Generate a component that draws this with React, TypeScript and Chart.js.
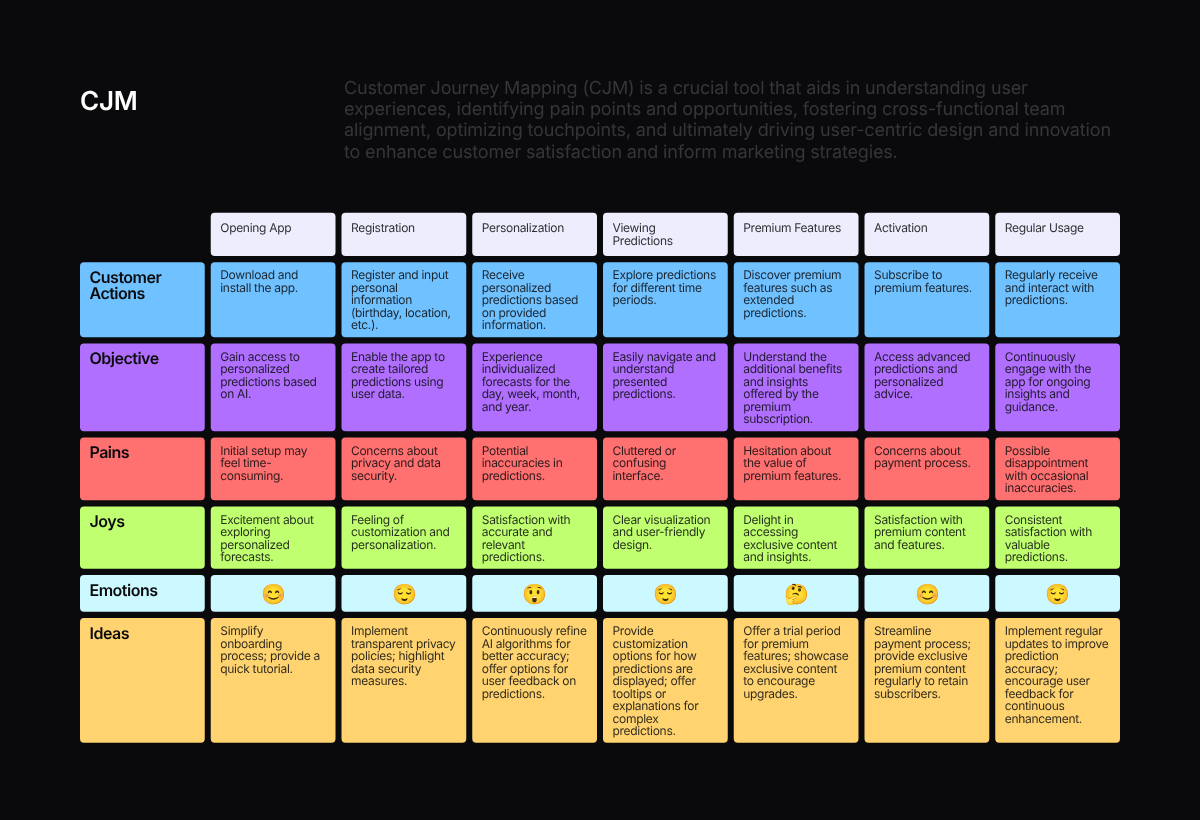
import React, { useEffect, useRef } from "react";
import { Chart, registerables } from "chart.js";

Chart.register(...registerables);

const title = "CJM";
const description = [
  "Customer Journey Mapping (CJM) is a crucial tool that aids in understanding user",
  "experiences, identifying pain points and opportunities, fostering cross-functional team",
  "alignment, optimizing touchpoints, and ultimately driving user-centric design and innovation",
  "to enhance customer satisfaction and inform marketing strategies.",
];

const stages = [
  ["Opening App"],
  ["Registration"],
  ["Personalization"],
  ["Viewing", "Predictions"],
  ["Premium Features"],
  ["Activation"],
  ["Regular Usage"],
];

const rowNames = [
  [],
  ["Customer", "Actions"],
  ["Objective"],
  ["Pains"],
  ["Joys"],
  ["Emotions"],
  ["Ideas"],
];

const customerActions = [
  ["Download and", "install the app."],
  ["Register and input", "personal", "information", "(birthday, location,", "etc.)."],
  ["Receive", "personalized", "predictions based", "on provided", "information."],
  ["Explore predictions", "for different time", "periods."],
  ["Discover premium", "features such as", "extended", "predictions."],
  ["Subscribe to", "premium features."],
  ["Regularly receive", "and interact with", "predictions."],
];

const objectives = [
  ["Gain access to", "personalized", "predictions based", "on AI."],
  ["Enable the app to", "create tailored", "predictions using", "user data."],
  ["Experience", "individualized", "forecasts for the", "day, week, month,", "and year."],
  ["Easily navigate and", "understand", "presented", "predictions."],
  ["Understand the", "additional benefits", "and insights", "offered by the", "premium", "subscription."],
  ["Access advanced", "predictions and", "personalized", "advice."],
  ["Continuously", "engage with the", "app for ongoing", "insights and", "guidance."],
];

const pains = [
  ["Initial setup may", "feel time-", "consuming."],
  ["Concerns about", "privacy and data", "security."],
  ["Potential", "inaccuracies in", "predictions."],
  ["Cluttered or", "confusing", "interface."],
  ["Hesitation about", "the value of", "premium features."],
  ["Concerns about", "payment process."],
  ["Possible", "disappointment", "with occasional", "inaccuracies."],
];

const joys = [
  ["Excitement about", "exploring", "personalized", "forecasts."],
  ["Feeling of", "customization and", "personalization."],
  ["Satisfaction with", "accurate and", "relevant", "predictions."],
  ["Clear visualization", "and user-friendly", "design."],
  ["Delight in", "accessing", "exclusive content", "and insights."],
  ["Satisfaction with", "premium content", "and features."],
  ["Consistent", "satisfaction with", "valuable", "predictions."],
];

const emotions = ["😊", "😌", "😲", "😌", "🤔", "😊", "😌"];

const ideas = [
  ["Simplify", "onboarding", "process; provide a", "quick tutorial."],
  ["Implement", "transparent privacy", "policies; highlight", "data security", "measures."],
  ["Continuously refine", "AI algorithms for", "better accuracy;", "offer options for", "user feedback on", "predictions."],
  ["Provide", "customization", "options for how", "predictions are", "displayed; offer", "tooltips or", "explanations for", "complex", "predictions."],
  ["Offer a trial period", "for premium", "features; showcase", "exclusive content", "to encourage", "upgrades."],
  ["Streamline", "payment process;", "provide exclusive", "premium content", "regularly to retain", "subscribers."],
  ["Implement regular", "updates to improve", "prediction", "accuracy;", "encourage user", "feedback for", "continuous", "enhancement."],
];

const rowCells = [stages, customerActions, objectives, pains, joys, null, ideas];

// layout of the board, the y axis runs in page pixels
const rowHeights = [43.3, 75, 87.6, 62.7, 62.4, 36.7, 124.7];
const rowColors = ["#ededfd", "#70c1ff", "#b06fff", "#ff7070", "#bfff70", "#ccf8ff", "#ffd470"];
const boardTop = 212.8;
const rowGap = 6.25;
const background = "#0a0a0d";

const rowRanges: [number, number][] = [];
let cursor = boardTop;
rowHeights.forEach((h) => {
  rowRanges.push([cursor, cursor + h]);
  cursor += h + rowGap;
});

const columns = ["", ...stages.map((s) => s.join(" "))];

const boardText = {
  id: "boardText",
  afterDatasetsDraw(chart: any) {
    const { ctx } = chart;
    ctx.save();
    ctx.textBaseline = "middle";
    ctx.textAlign = "left";
    ctx.textRendering = "geometricPrecision";

    ctx.fillStyle = "#ffffff";
    ctx.font = "600 26px Inter";
    ctx.letterSpacing = "-0.2px";
    ctx.fillText(title, 80, 102);

    ctx.fillStyle = "#36363a";
    ctx.font = "400 18px Inter";
    ctx.letterSpacing = "-0.15px";
    description.forEach((line, i) => ctx.fillText(line, 344, 88.6 + i * 21.2));

    rowRanges.forEach((_, r) => {
      chart.getDatasetMeta(r).data.forEach((bar: any, c: number) => {
        const top = Math.min(bar.y, bar.base);
        const left = bar.x - bar.width / 2;
        if (c === 0) {
          ctx.fillStyle = "#0a0a0d";
          ctx.font = "600 16px Inter";
          ctx.letterSpacing = "-0.5px";
          rowNames[r].forEach((line, i) => ctx.fillText(line, left + 9.5, top + 16 + i * 16));
          return;
        }
        if (r === 5) {
          ctx.fillStyle = "#000";
          ctx.textAlign = "center";
          ctx.font = "20px Inter, 'Noto Color Emoji', sans-serif";
          ctx.letterSpacing = "0px";
          ctx.fillText(emotions[c - 1], bar.x + 0.5, (bar.y + bar.base) / 2 + 1.5);
          ctx.textAlign = "left";
          return;
        }
        const lines = rowCells[r]![c - 1];
        ctx.fillStyle = "rgba(10, 10, 13, 0.85)";
        ctx.font = "400 12px Inter";
        ctx.letterSpacing = "-0.3px";
        const first = r === 0 ? top + 16 : top + 13.5;
        lines.forEach((line, i) => ctx.fillText(line, left + 9.5, first + i * 12.5));
      });
    });
    ctx.restore();
  },
};

export default function App() {
  const canvasRef = useRef<HTMLCanvasElement | null>(null);

  useEffect(() => {
    if (!canvasRef.current) return;
    document.body.style.margin = "0";
    document.body.style.background = background;

    const chart = new Chart(canvasRef.current, {
      type: "bar",
      data: {
        labels: columns,
        datasets: rowRanges.map((range, r) => ({
          label: rowNames[r].join(" ") || "Stage",
          data: columns.map((_, c) => (r === 0 && c === 0 ? null : range)) as any,
          backgroundColor: rowColors[r],
          borderRadius: 4,
          borderSkipped: false,
          grouped: false,
          barPercentage: 124.75 / 130.75,
          categoryPercentage: 1,
        })),
      },
      options: {
        responsive: false,
        animation: false,
        layout: { padding: { left: 77, right: 77, top: 0, bottom: 0 } },
        plugins: { legend: { display: false }, tooltip: { enabled: false } },
        scales: {
          x: { display: false },
          y: { display: false, min: 0, max: 820, reverse: true },
        },
      },
      plugins: [boardText],
    });

    return () => {
      chart.destroy();
    };
  }, []);

  return <canvas ref={canvasRef} width={1200} height={820} style={{ display: "block" }}></canvas>;
}
